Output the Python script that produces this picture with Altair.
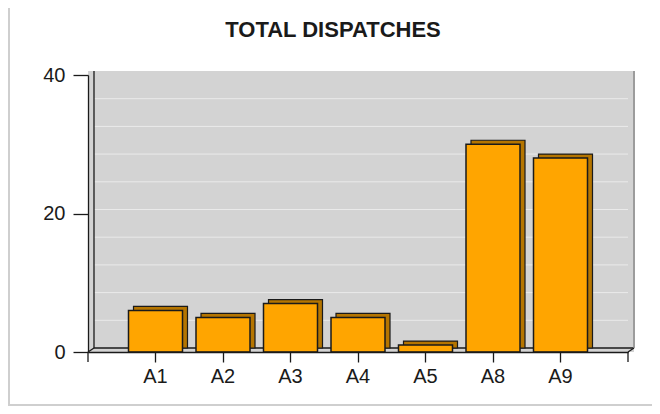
import altair as alt
import pandas as pd

# ---- data ----
categories = ["A1", "A2", "A3", "A4", "A5", "A8", "A9"]
dispatches = [6, 5, 7, 5, 1, 30, 28]
y_tick_values = [0, 20, 40]
grid_values = [4, 8, 12, 16, 20, 24, 28, 32, 36]
y_domain = [0, 40]
title_text = "TOTAL DISPATCHES"

# ---- layout / style constants ----
W, H = 540, 277          # plot area
DX, DY = 6, 4            # pseudo-3D depth
FONT = "Liberation Sans"
INK = "#1a1a1a"

df = pd.DataFrame({"cat": categories, "n": dispatches})
grid_df = pd.DataFrame({"v": grid_values})
one = pd.DataFrame({"k": [0]})

xscale = alt.Scale(domain=categories, paddingInner=0.2, paddingOuter=0.6)
yscale = alt.Scale(domain=y_domain, nice=False, zero=True)

xaxis = alt.Axis(title=None, labelAngle=0, labelFontSize=20, labelFont=FONT,
                 labelColor=INK, tickSize=10, tickColor=INK, tickWidth=1.3,
                 domainColor=INK, domainWidth=1.3, labelPadding=4, zindex=2)
yaxis = alt.Axis(title=None, values=y_tick_values, labelFontSize=20, labelFont=FONT,
                 labelColor=INK, tickSize=15, tickColor=INK, tickWidth=1.3,
                 domainColor=INK, domainWidth=1.3, labelPadding=8, grid=False, zindex=2)

# back wall + left wall + floor (grey)
wall = alt.Chart(one).mark_rect(fill="#d3d3d3").encode(
    x=alt.value(0), x2=alt.value(W + DX), y=alt.value(-DY), y2=alt.value(H)
)

grid = alt.Chart(grid_df).mark_rule(color="#eaeaea", strokeWidth=1, xOffset=DX, yOffset=-DY).encode(
    y=alt.Y("v:Q", scale=yscale, axis=yaxis),
    x=alt.value(0), x2=alt.value(W),
)

back_left = alt.Chart(one).mark_rule(color=INK, strokeWidth=1.3).encode(
    x=alt.value(DX), y=alt.value(-DY), y2=alt.value(H - DY)
)
back_floor = alt.Chart(one).mark_rule(color=INK, strokeWidth=1.3).encode(
    x=alt.value(DX), x2=alt.value(W + DX), y=alt.value(H - DY)
)
back_right = alt.Chart(one).mark_rule(color="#9c9c9c", strokeWidth=2).encode(
    x=alt.value(W + DX), y=alt.value(-DY), y2=alt.value(H - DY)
)

depth = alt.Chart(df).mark_bar(fill="#b57500", stroke=INK, strokeWidth=1.2, xOffset=5, yOffset=-4).encode(
    x=alt.X("cat:N", scale=xscale, sort=categories, axis=xaxis),
    y=alt.Y("n:Q", scale=yscale, axis=yaxis),
)

front = alt.Chart(df).mark_bar(fill="#ffa500", stroke=INK, strokeWidth=1.5).encode(
    x=alt.X("cat:N", scale=xscale, sort=categories, axis=xaxis),
    y=alt.Y("n:Q", scale=yscale, axis=yaxis),
)

end_tick_l = alt.Chart(one).mark_rule(color=INK, strokeWidth=1.3).encode(
    x=alt.value(0), y=alt.value(H), y2=alt.value(H + 10)
)
end_tick_r = alt.Chart(one).mark_rule(color=INK, strokeWidth=1.3).encode(
    x=alt.value(W), y=alt.value(H), y2=alt.value(H + 10)
)
right_diag = alt.Chart(one).mark_rule(color=INK, strokeWidth=1.3).encode(
    x=alt.value(W), x2=alt.value(W + DX), y=alt.value(H), y2=alt.value(H - DY)
)
left_diag = alt.Chart(one).mark_rule(color=INK, strokeWidth=1.3).encode(
    x=alt.value(0), x2=alt.value(DX), y=alt.value(H), y2=alt.value(H - DY)
)

frame_left = alt.Chart(one).mark_rule(color="#cfcfcf", strokeWidth=2).encode(
    x=alt.value(-79), y=alt.value(-67), y2=alt.value(330)
)
frame_bottom = alt.Chart(one).mark_rule(color="#cfcfcf", strokeWidth=2).encode(
    x=alt.value(-80), x2=alt.value(W + 24), y=alt.value(330)
)

chart = alt.layer(
    wall, grid, back_left, back_floor, back_right, depth, front,
    end_tick_l, end_tick_r, right_diag, left_diag, frame_left, frame_bottom
).properties(
    width=W, height=H,
    title=alt.TitleParams(title_text, fontSize=22, fontWeight="bold", font=FONT, color=INK,
                          anchor="middle", frame="group", dx=-25, offset=0, dy=35),
    autosize=alt.AutoSizeParams(type="none"),
    padding={"left": 80, "top": 67, "right": 24, "bottom": 54},
).configure_view(stroke=None).configure(background="white")

chart.save("out.html", embed_options={"renderer": "svg", "actions": False})
